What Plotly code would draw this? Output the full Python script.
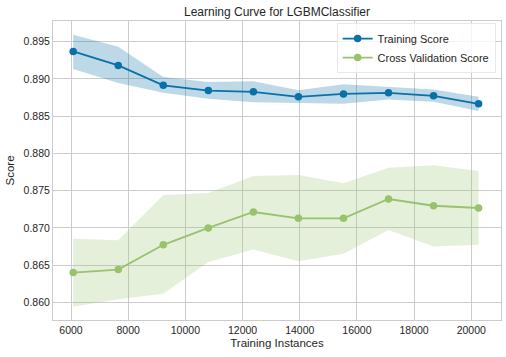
import plotly.graph_objects as go

train_sizes = [6077, 7652, 9228, 10803, 12379, 13954, 15530, 17105, 18681, 20256]
train_mean = [0.89367, 0.8918, 0.88913, 0.88843, 0.88825, 0.88758, 0.88798, 0.88812, 0.88772, 0.88665]
train_upper = [0.89593, 0.89429, 0.89025, 0.88959, 0.88967, 0.88847, 0.88927, 0.88892, 0.88856, 0.88758]
train_lower = [0.89132, 0.88945, 0.88812, 0.88732, 0.88687, 0.8868, 0.88665, 0.88723, 0.88692, 0.88567]
cv_mean = [0.8640, 0.8644, 0.86773, 0.8700, 0.87213, 0.87128, 0.87128, 0.87387, 0.87297, 0.87267]
cv_upper = [0.86853, 0.86835, 0.8744, 0.87467, 0.87697, 0.8771, 0.8760, 0.87808, 0.8784, 0.87764]
cv_lower = [0.85941, 0.86044, 0.86115, 0.86541, 0.8671, 0.86551, 0.86653, 0.86973, 0.86751, 0.86773]

x_ticks = [6000, 8000, 10000, 12000, 14000, 16000, 18000, 20000]
y_ticks = [0.860, 0.865, 0.870, 0.875, 0.880, 0.885, 0.890, 0.895]

BLUE = "#0a70a8"
GREEN = "#98c26c"
FONT = "Liberation Sans, Arial, sans-serif"
W, H = 506, 357

fig = go.Figure()

fig.add_trace(go.Scatter(
    x=train_sizes + train_sizes[::-1], y=train_upper + train_lower[::-1],
    fill="toself", fillcolor="rgba(10,112,168,0.27)", line=dict(width=0),
    mode="lines", showlegend=False, hoverinfo="skip"))
fig.add_trace(go.Scatter(
    x=train_sizes + train_sizes[::-1], y=cv_upper + cv_lower[::-1],
    fill="toself", fillcolor="rgba(152,194,108,0.25)", line=dict(width=0),
    mode="lines", showlegend=False, hoverinfo="skip"))

fig.add_trace(go.Scatter(
    x=train_sizes, y=train_mean, mode="lines+markers", name="Training Score",
    line=dict(color=BLUE, width=1.8), marker=dict(color=BLUE, size=7.5)))
fig.add_trace(go.Scatter(
    x=train_sizes, y=cv_mean, mode="lines+markers", name="Cross Validation Score",
    line=dict(color=GREEN, width=1.8), marker=dict(color=GREEN, size=7.5)))

axis_common = dict(
    showgrid=True, gridcolor="#cccccc", gridwidth=1,
    showline=True, linecolor="#cccccc", linewidth=1, mirror=True,
    zeroline=False, ticks="", tickfont=dict(family=FONT, size=10.5, color="#262626"),
)

fig.update_layout(
    width=W, height=H,
    margin=dict(l=53, r=5, t=21, b=37, autoexpand=False),
    paper_bgcolor="white", plot_bgcolor="white",
    title=dict(text="Learning Curve for LGBMClassifier", xref="paper", x=0.5, xanchor="center",
               yref="container", y=1 - 11.5 / H, yanchor="middle",
               font=dict(family=FONT, size=12, color="#262626")),
    xaxis=dict(range=[5370, 21040], tickvals=x_ticks,
               ticktext=[str(v) for v in x_ticks],
               title=dict(text="Training Instances", standoff=4,
                          font=dict(family=FONT, size=11.5, color="#262626")),
               **axis_common),
    yaxis=dict(range=[0.85764, 0.89776], tickvals=y_ticks,
               ticktext=[f"{v:.3f}" for v in y_ticks],
               title=dict(text="Score", standoff=6,
                          font=dict(family=FONT, size=11.5, color="#262626")),
               **axis_common),
    legend=dict(x=0.988, y=0.993, xanchor="right", yanchor="top",
                bgcolor="rgba(255,255,255,0.8)", bordercolor="#e8e8e8", borderwidth=1,
                font=dict(family=FONT, size=11, color="#262626"),
                itemwidth=30, tracegroupgap=0),
    showlegend=True,
)

fig.write_html("out.html", config={"displayModeBar": False},
               post_script="document.body.style.margin='0';")
